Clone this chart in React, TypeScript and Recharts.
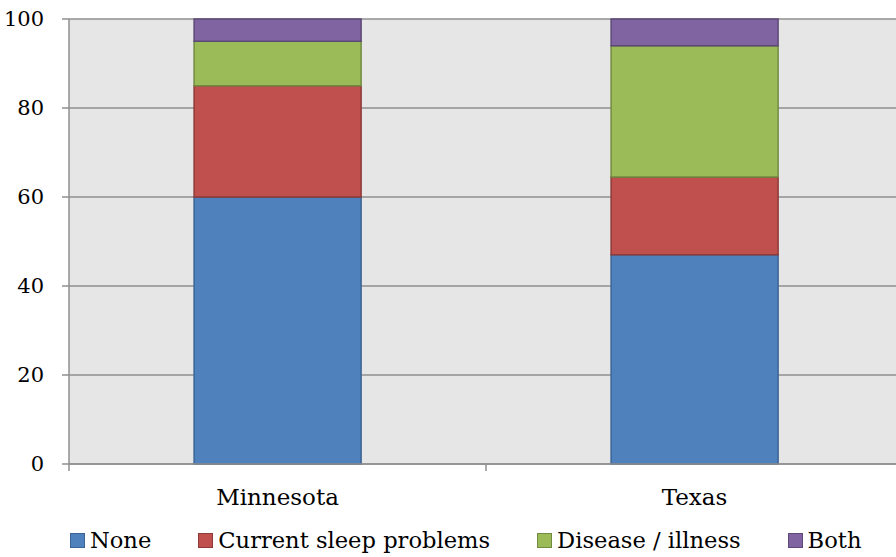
import { BarChart, Bar, XAxis, YAxis, CartesianGrid, Legend } from 'recharts';

const categories = ['Minnesota', 'Texas'];
const noneValues = [60, 47];
const sleepValues = [25, 17.5];
const diseaseValues = [10, 29.5];
const bothValues = [5, 6];
const yTicks = [0, 20, 40, 60, 80, 100];

const SERIES = [
  { key: 'none', name: 'None', fill: '#4f81bd', stroke: '#3b6494' },
  { key: 'sleep', name: 'Current sleep problems', fill: '#c0504d', stroke: '#8e3a38' },
  { key: 'disease', name: 'Disease / illness', fill: '#9bbb59', stroke: '#728b40' },
  { key: 'both', name: 'Both', fill: '#8064a2', stroke: '#5d4977' },
];

const data = categories.map((c, i) => ({
  name: c,
  none: noneValues[i],
  sleep: sleepValues[i],
  disease: diseaseValues[i],
  both: bothValues[i],
}));

// Liberation Serif isn't picked up here, DejaVu Serif is
const FONT = 'DejaVu Serif';
const GRID = '#8f8f8f';
const X_TICK_SIZE = 7;
const X_TICK_MARGIN = 18;

function CategoryTick(props: any) {
  const { x, y, payload } = props;
  const axisY = y - X_TICK_SIZE - X_TICK_MARGIN;
  const left = x - (payload.offset || 0);
  return (
    <g>
      <line x1={left} x2={left} y1={axisY} y2={axisY + X_TICK_SIZE} stroke={GRID} strokeWidth={1.5} />
      <text x={x} y={axisY + 41} textAnchor="middle" fontFamily={FONT} fontSize={23} fill="#000">
        {payload.value}
      </text>
    </g>
  );
}

function LegendContent() {
  return (
    <div
      style={{
        display: 'flex',
        alignItems: 'center',
        height: 43,
        paddingTop: 9,
        paddingLeft: 70,
        boxSizing: 'border-box',
        fontFamily: FONT,
        fontSize: 22.6,
        color: '#000',
        whiteSpace: 'nowrap',
      }}
    >
      {SERIES.map((s) => (
        <div key={s.key} style={{ display: 'flex', alignItems: 'center', marginRight: 47 }}>
          <span
            style={{
              display: 'inline-block',
              width: 13,
              height: 13,
              background: s.fill,
              border: `1px solid ${s.stroke}`,
              marginRight: 5,
            }}
          />
          <span>{s.name}</span>
        </div>
      ))}
    </div>
  );
}

export default function App() {
  return (
    <div style={{ position: 'absolute', left: 0, top: 0, width: 896, height: 557, overflow: 'hidden', background: '#fff' }}>
      <BarChart
        width={910}
        height={557}
        data={data}
        margin={{ top: 19, right: 7, left: 0, bottom: 0 }}
        barCategoryGap="30%"
      >
        <CartesianGrid vertical={false} stroke={GRID} strokeWidth={1.5} fill="#e6e6e6" fillOpacity={1} />
        <XAxis
          dataKey="name"
          height={50}
          tickSize={X_TICK_SIZE}
          tickMargin={X_TICK_MARGIN}
          tickLine={false}
          axisLine={{ stroke: GRID, strokeWidth: 1.5 }}
          tick={<CategoryTick />}
          interval={0}
        />
        <YAxis
          width={69}
          domain={[0, 100]}
          ticks={yTicks}
          tickSize={7}
          tickMargin={18}
          tickLine={{ stroke: GRID, strokeWidth: 1.5 }}
          axisLine={{ stroke: GRID, strokeWidth: 1.5 }}
          tick={{ fontFamily: FONT, fontSize: 21, fill: '#000' }}
        />
        <Legend
          verticalAlign="bottom"
          content={<LegendContent />}
          wrapperStyle={{ left: 0, width: 896, height: 43 }}
        />
        {SERIES.map((s) => (
          <Bar
            key={s.key}
            dataKey={s.key}
            name={s.name}
            stackId="a"
            fill={s.fill}
            stroke={s.stroke}
            strokeWidth={1.5}
            isAnimationActive={false}
          />
        ))}
      </BarChart>
    </div>
  );
}
